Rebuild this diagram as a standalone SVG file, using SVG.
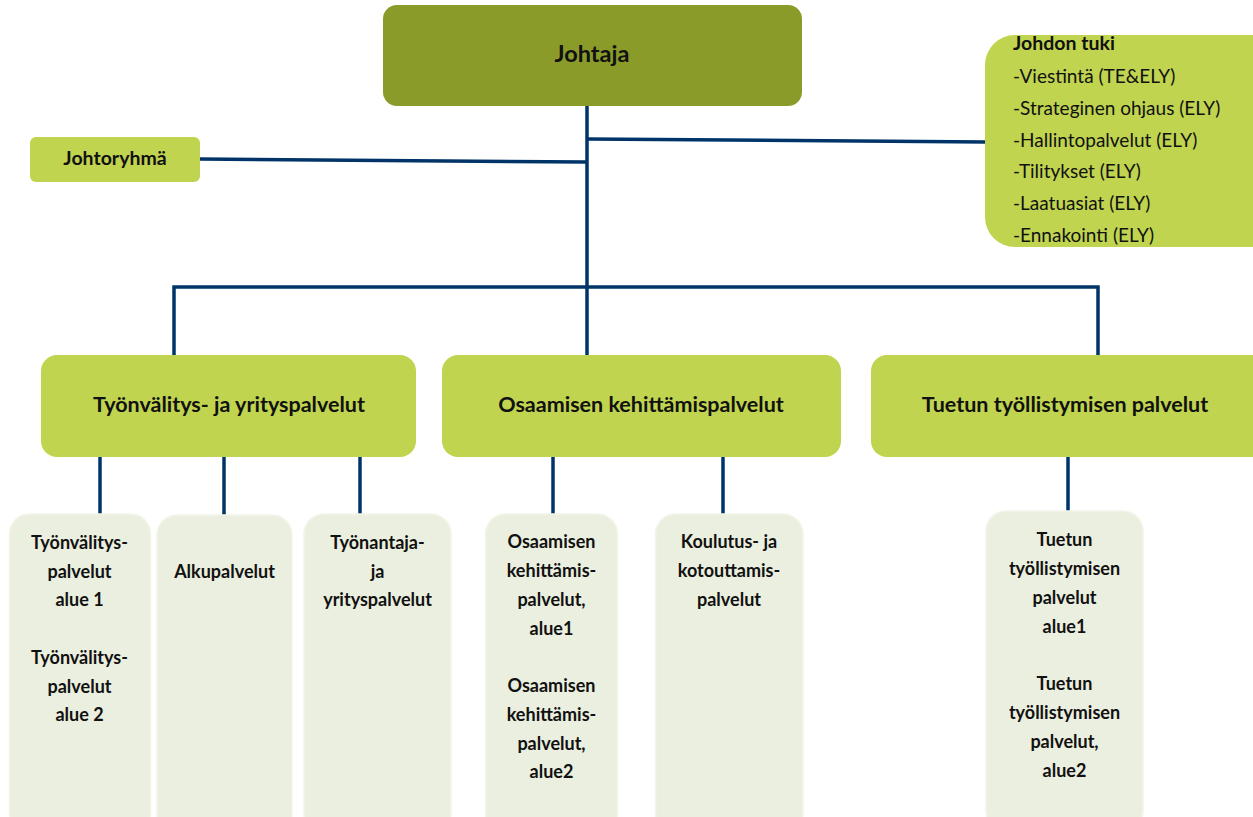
<svg xmlns="http://www.w3.org/2000/svg" width="1253" height="817" viewBox="0 0 1253 817">
<style>
.top{fill:#8a9b2a}
.mid{fill:#c0d44f}
.low{fill:#ebefdf;stroke:#f2f5e9;stroke-width:1.5}
.c{stroke:#003468;stroke-width:3.5;fill:none;stroke-linecap:butt}
text{font-family:Lato,"Open Sans","Liberation Sans",sans-serif;fill:#111;font-weight:bold}
.ct{text-anchor:middle}
.lt{font-size:18px}
.mt{font-size:21.5px}
.jt{font-weight:normal;font-size:19px}
</style>
<rect width="1253" height="817" fill="#fff"/>
<g id="connectors">
<line class="c" x1="587" y1="105" x2="587" y2="356"/>
<line class="c" x1="200" y1="159" x2="587" y2="162"/>
<line class="c" x1="587" y1="139" x2="986" y2="142"/>
<polyline class="c" points="174,356 174,287 1098,287 1098,356"/>
<line class="c" x1="100" y1="456" x2="100" y2="515"/>
<line class="c" x1="224" y1="456" x2="224" y2="516"/>
<line class="c" x1="360" y1="456" x2="360" y2="515"/>
<line class="c" x1="553" y1="456" x2="553" y2="515"/>
<line class="c" x1="723" y1="456" x2="723" y2="515"/>
<line class="c" x1="1068" y1="456" x2="1068" y2="512"/>
</g>
<g id="johtaja">
<rect class="top" x="383" y="5" width="419" height="101" rx="14"/>
<text class="ct" x="592" y="62" font-size="23.5">Johtaja</text>
</g>
<g id="johtoryhma">
<rect class="mid" x="30" y="137" width="170" height="45" rx="6"/>
<text class="ct" x="115" y="165" font-size="19.5">Johtoryhmä</text>
</g>
<g id="johdon-tuki">
<rect class="mid" x="985" y="35" width="300" height="212" rx="30"/>
<text x="1013" y="50" font-size="19.5">Johdon tuki</text>
<text class="jt" x="1013" y="83">-Viestintä (TE&amp;ELY)</text>
<text class="jt" x="1013" y="115">-Strateginen ohjaus (ELY)</text>
<text class="jt" x="1013" y="147">-Hallintopalvelut (ELY)</text>
<text class="jt" x="1013" y="178">-Tilitykset (ELY)</text>
<text class="jt" x="1013" y="210">-Laatuasiat (ELY)</text>
<text class="jt" x="1013" y="242">-Ennakointi (ELY)</text>
</g>
<g id="tyonvalitys">
<rect class="mid" x="41" y="355" width="375" height="102" rx="16"/>
<text class="ct mt" x="229" y="412">Työnvälitys- ja yrityspalvelut</text>
</g>
<g id="osaamisen">
<rect class="mid" x="442" y="355" width="399" height="102" rx="16"/>
<text class="ct mt" x="641" y="412">Osaamisen kehittämispalvelut</text>
</g>
<g id="tuetun">
<rect class="mid" x="871" y="355" width="400" height="102" rx="16"/>
<text class="ct mt" x="1065" y="412">Tuetun työllistymisen palvelut</text>
</g>
<g id="tyonvalityspalvelut-alue">
<rect class="low" x="9.5" y="514" width="141" height="320" rx="20"/>
<text class="ct lt" x="79.5" y="549">Työnvälitys-</text>
<text class="ct lt" x="79.5" y="578">palvelut</text>
<text class="ct lt" x="79.5" y="606">alue 1</text>
<text class="ct lt" x="79.5" y="664">Työnvälitys-</text>
<text class="ct lt" x="79.5" y="693">palvelut</text>
<text class="ct lt" x="79.5" y="721">alue 2</text>
</g>
<g id="alkupalvelut">
<rect class="low" x="157" y="515" width="135" height="320" rx="20"/>
<text class="ct lt" x="224.5" y="578">Alkupalvelut</text>
</g>
<g id="tyonantaja">
<rect class="low" x="304" y="514" width="147" height="320" rx="20"/>
<text class="ct lt" x="377.5" y="549">Työnantaja-</text>
<text class="ct lt" x="377.5" y="578">ja</text>
<text class="ct lt" x="377.5" y="606">yrityspalvelut</text>
</g>
<g id="osaamisen-alue">
<rect class="low" x="485.5" y="514" width="132" height="320" rx="20"/>
<text class="ct lt" x="551.5" y="548">Osaamisen</text>
<text class="ct lt" x="551.5" y="577">kehittämis-</text>
<text class="ct lt" x="551.5" y="606">palvelut,</text>
<text class="ct lt" x="551.5" y="635">alue1</text>
<text class="ct lt" x="551.5" y="692">Osaamisen</text>
<text class="ct lt" x="551.5" y="721">kehittämis-</text>
<text class="ct lt" x="551.5" y="750">palvelut,</text>
<text class="ct lt" x="551.5" y="778">alue2</text>
</g>
<g id="koulutus">
<rect class="low" x="655.5" y="514" width="147.5" height="320" rx="20"/>
<text class="ct lt" x="729" y="548">Koulutus- ja</text>
<text class="ct lt" x="729" y="577">kotouttamis-</text>
<text class="ct lt" x="729" y="606">palvelut</text>
</g>
<g id="tuetun-alue">
<rect class="low" x="986" y="511" width="157" height="320" rx="20"/>
<text class="ct lt" x="1064.5" y="546">Tuetun</text>
<text class="ct lt" x="1064.5" y="575">työllistymisen</text>
<text class="ct lt" x="1064.5" y="604">palvelut</text>
<text class="ct lt" x="1064.5" y="633">alue1</text>
<text class="ct lt" x="1064.5" y="690">Tuetun</text>
<text class="ct lt" x="1064.5" y="719">työllistymisen</text>
<text class="ct lt" x="1064.5" y="748">palvelut,</text>
<text class="ct lt" x="1064.5" y="777">alue2</text>
</g>
</svg>
